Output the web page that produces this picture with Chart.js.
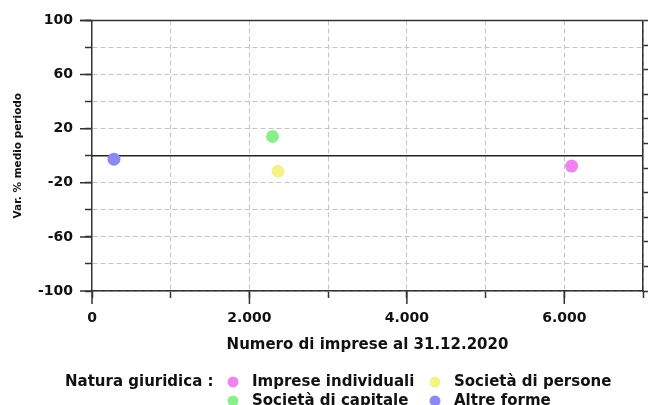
<!DOCTYPE html>
<html><head><meta charset="utf-8">
<script src="https://cdn.jsdelivr.net/npm/chart.js@4.4.0/dist/chart.umd.min.js"></script>
<style>html,body{margin:0;padding:0;background:#fff}#wrap{width:651px;height:405px;position:relative}</style>
</head><body><div id="wrap"><canvas id="c"></canvas></div>
<script>
// ---- data ----
const categories = ['Imprese individuali', 'Società di capitale', 'Società di persone', 'Altre forme'];
const xValues = [6093, 2293, 2364, 279];
const yValues = [-7.7, 14.2, -11.5, -2.6];
const seriesColors = ['#f083f0', '#8aef8a', '#f5f288', '#8a8af2'];
const xTickLabels = [0, 2000, 4000, 6000];
const yTickLabels = [100, 60, 20, -20, -60, -100];
const legendTitle = 'Natura giuridica :';
const xTitle = 'Numero di imprese al 31.12.2020';
const yTitle = 'Var. % medio periodo';

const FONT = 'DejaVu Sans';
const fmt = v => v.toLocaleString('de-DE');

const datasets = categories.map((c, i) => ({
  label: c,
  data: [{x: xValues[i], y: yValues[i]}],
  backgroundColor: seriesColors[i],
  borderColor: seriesColors[i],
  pointRadius: 6.5,
  pointHoverRadius: 6.5,
  borderWidth: 0
}));

const extrasPlugin = {
  id: 'extras',
  beforeDatasetsDraw(chart) {
    const {ctx, chartArea: a, scales} = chart;
    ctx.save();
    const y0 = scales.y.getPixelForValue(0);
    ctx.strokeStyle = '#222'; ctx.lineWidth = 1.5;
    ctx.beginPath(); ctx.moveTo(a.left, y0); ctx.lineTo(a.right, y0); ctx.stroke();
    ctx.strokeStyle = '#333'; ctx.lineWidth = 1.5;
    ctx.beginPath(); ctx.moveTo(a.left - 12, a.top); ctx.lineTo(a.right, a.top); ctx.stroke();
    ctx.beginPath();
    yTickLabels.forEach(v => { const p = scales.y.getPixelForValue(v); ctx.moveTo(a.left - 12, p); ctx.lineTo(a.left, p); });
    xTickLabels.forEach(v => { const p = scales.x.getPixelForValue(v); ctx.moveTo(p, a.bottom); ctx.lineTo(p, a.bottom + 13); });
    ctx.stroke();
    ctx.restore();
  },
  afterDraw(chart) {
    const {ctx} = chart;
    ctx.save();
    ctx.font = 'bold 15px "' + FONT + '"';
    ctx.fillStyle = '#111';
    ctx.textBaseline = 'middle';
    ctx.textAlign = 'left';
    ctx.fillText(legendTitle, 65, 382);
    const colX = [233, 435], rowY = [382, 401];
    chart.data.datasets.forEach((ds, i) => {
      const col = Math.floor(i / 2), row = i % 2;
      ctx.fillStyle = ds.backgroundColor;
      ctx.beginPath(); ctx.arc(colX[col], rowY[row], 5.5, 0, Math.PI * 2); ctx.fill();
      ctx.fillStyle = '#111';
      ctx.fillText(ds.label, colX[col] + 19, rowY[row]);
    });
    ctx.restore();
  }
};

new Chart(document.getElementById('c'), {
  type: 'scatter',
  data: {datasets},
  options: {
    responsive: true,
    maintainAspectRatio: false,
    animation: false,
    events: [],
    layout: {padding: {top: 18, left: 12, right: 0, bottom: 51}},
    plugins: {legend: {display: false}, tooltip: {enabled: false}, title: {display: false}},
    scales: {
      x: {
        type: 'linear', min: 0, max: 7000,
        ticks: {
          stepSize: 1000, autoSkip: false, maxRotation: 0, padding: 12,
          color: '#111', font: {family: FONT, weight: 'bold', size: 14},
          callback: v => xTickLabels.includes(v) ? fmt(v) : ''
        },
        grid: {
          color: ctx => (ctx.tick && ctx.tick.value === 0) ? 'rgba(0,0,0,0)' : '#c4c4c4',
          lineWidth: 1, tickLength: 7, tickColor: '#333', tickWidth: 1.5
        },
        border: {display: true, color: '#333', width: 1.5, dash: [5, 3]},
        title: {display: true, text: xTitle, color: '#111', padding: 0, font: {family: FONT, weight: 'bold', size: 15}},
        afterFit: s => { s.height = 63; s.paddingRight = 0; }
      },
      y: {
        type: 'linear', min: -100, max: 100,
        ticks: {
          stepSize: 20, autoSkip: false, padding: 12,
          color: '#111', font: {family: FONT, weight: 'bold', size: 14},
          callback: v => yTickLabels.includes(v) ? String(v) : ''
        },
        grid: {
          color: ctx => (ctx.tick && (ctx.tick.value === 0 || ctx.tick.value === 100)) ? 'rgba(0,0,0,0)' : '#c4c4c4',
          lineWidth: 1, tickLength: 7, tickColor: '#333', tickWidth: 1.5
        },
        border: {display: true, color: '#333', width: 1.5, dash: [5, 3]},
        title: {display: true, text: yTitle, color: '#111', padding: 0, font: {family: FONT, weight: 'bold', size: 10.5}},
        afterFit: s => { s.width = 80; }
      },
      y2: {
        type: 'linear', position: 'right', min: 0, max: 11,
        ticks: {stepSize: 1, display: false},
        grid: {drawOnChartArea: false, tickLength: 5, tickColor: '#333', tickWidth: 1.5},
        border: {display: true, color: '#333', width: 1.5},
        afterFit: s => { s.width = 8; }
      }
    }
  },
  plugins: [extrasPlugin]
});
</script>
</body></html>
